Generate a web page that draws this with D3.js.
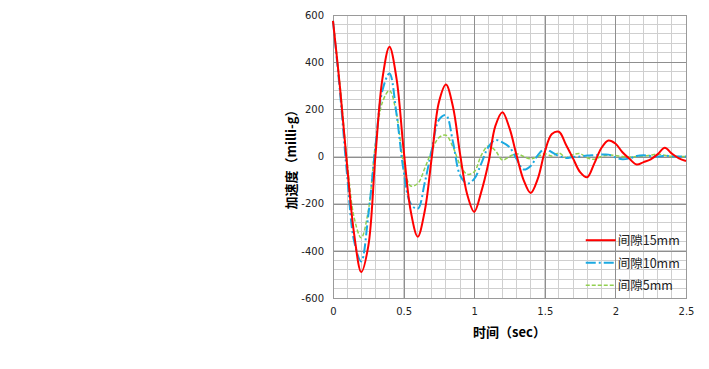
<!DOCTYPE html>
<html>
<head>
<meta charset="utf-8">
<script src="https://cdn.jsdelivr.net/npm/d3@7"></script>
<style>
  body { margin: 0; background: #fff; }
  text { font-family: "Noto Sans CJK SC", "DejaVu Sans", sans-serif; }
</style>
</head>
<body>
<script>
// time axis (sec)
const time = d3.range(0, 51).map(i => +(i * 0.05).toFixed(2));

// 间隙15mm
const gap15 = [575, 290, -40, -330, -490, -380, 0, 330, 465, 330,
  30, -230, -340, -230, 0, 230, 305, 210, 10, -160,
  -235, -150, -30, 130, 188, 120, 5, -100, -155, -95,
  20, 95, 105, 50, -8, -66, -88, -30, 35, 68,
  55, 18, -10, -34, -24, -12, 10, 37, 12, -8, -19];

// 间隙10mm
const gap10 = [575, 270, -80, -360, -445, -250, 40, 280, 352, 180,
  -60, -200, -222, -110, 30, 155, 175, 60, -80, -115,
  -95, -30, 40, 70, 60, 40, -10, -55, -40, 5,
  32, 18, 2, -6, -2, 0, 4, 6, 8, 8,
  -4, -12, -8, 2, 5, 2, 0, 3, 1, 0, 0];

// 间隙5mm
const gap5 = [575, 300, -20, -260, -345, -230, 50, 230, 280, 180,
  -30, -125, -115, -50, 25, 80, 90, 40, -35, -75,
  -65, 5, 45, 25, -15, 0, 12, 0, -10, 0,
  12, 2, 15, -5, 8, 12, -5, -12, 0, 6,
  4, 0, -2, 0, 2, 6, 10, 5, 0, 0, 0];

const xTicks = [0, 0.5, 1, 1.5, 2, 2.5];
const yTicks = [-600, -400, -200, 0, 200, 400, 600];

const series = [
  {name: "间隙15mm", values: gap15, color: "#ff0000", width: 2, dash: null},
  {name: "间隙10mm", values: gap10, color: "#1ba9e1", width: 2, dash: "10,3,2,3"},
  {name: "间隙5mm", values: gap5, color: "#92d050", width: 1.5, dash: "4,2"}
];

const W = 709, H = 369;
const margin = {top: 15, right: 23, bottom: 71, left: 333};
const width = W - margin.left - margin.right;
const height = H - margin.top - margin.bottom;

const svg = d3.select("body").append("svg")
  .attr("width", W)
  .attr("height", H);

const g = svg.append("g")
  .attr("transform", `translate(${margin.left}, ${margin.top})`);

const xScale = d3.scaleLinear().domain([0, 2.5]).range([0, width]);
const yScale = d3.scaleLinear().domain([-600, 600]).range([height, 0]);

// minor grid
g.append("g")
  .selectAll("line")
  .data(d3.range(0, 2.5001, 0.1))
  .join("line")
  .attr("x1", d => xScale(d)).attr("x2", d => xScale(d))
  .attr("y1", 0).attr("y2", height)
  .attr("stroke", "#cfcfcf").attr("stroke-width", 1)
  .attr("shape-rendering", "crispEdges");

g.append("g")
  .selectAll("line")
  .data(d3.range(-600, 600.01, 40))
  .join("line")
  .attr("x1", 0).attr("x2", width)
  .attr("y1", d => yScale(d)).attr("y2", d => yScale(d))
  .attr("stroke", "#cfcfcf").attr("stroke-width", 1)
  .attr("shape-rendering", "crispEdges");

// major grid via axes
const xAxis = d3.axisBottom(xScale).tickValues(xTicks).tickSize(-height).tickPadding(10)
  .tickFormat(d => String(d));
const yAxis = d3.axisLeft(yScale).tickValues(yTicks).tickSize(-width).tickPadding(9)
  .tickFormat(d => String(d));

const gx = g.append("g")
  .attr("transform", `translate(0, ${height})`)
  .call(xAxis);
const gy = g.append("g").call(yAxis);

[gx, gy].forEach(ax => {
  ax.select(".domain").remove();
  ax.selectAll(".tick line").attr("stroke", "#8f8f8f").attr("shape-rendering", "crispEdges");
  ax.selectAll(".tick text")
    .attr("fill", "#222")
    .style("font-family", "'DejaVu Sans', sans-serif")
    .style("font-size", "10px");
});

g.append("rect")
  .attr("width", width).attr("height", height)
  .attr("fill", "none").attr("stroke", "#9a9a9a")
  .attr("shape-rendering", "crispEdges");

const line = d3.line()
  .x((d, i) => xScale(time[i]))
  .y(d => yScale(d))
  .curve(d3.curveCatmullRom.alpha(0.5));

// draw green first so red sits on top
series.slice().reverse().forEach(s => {
  g.append("path")
    .datum(s.values)
    .attr("fill", "none")
    .attr("stroke", s.color)
    .attr("stroke-width", s.width)
    .attr("stroke-dasharray", s.dash)
    .attr("d", line);
});

// legend
const legend = g.append("g").attr("transform", `translate(${xScale(1.79)}, ${yScale(-355)})`);
series.forEach((s, i) => {
  const row = legend.append("g").attr("transform", `translate(0, ${i * 22.5})`);
  row.append("line")
    .attr("x1", 0).attr("x2", 30)
    .attr("stroke", s.color)
    .attr("stroke-width", s.width)
    .attr("stroke-dasharray", s.dash);
  row.append("text")
    .attr("x", 32).attr("y", 5)
    .style("font-size", "12.5px")
    .attr("fill", "#222")
    .text(s.name);
});

// axis titles
svg.append("text")
  .attr("x", margin.left + width / 2).attr("y", 337)
  .attr("text-anchor", "middle")
  .style("font-size", "13px").style("font-weight", "bold")
  .text("时间（sec）");

svg.append("text")
  .attr("transform", `translate(296, ${margin.top + height / 2}) rotate(-90)`)
  .attr("text-anchor", "middle")
  .style("font-size", "13px").style("font-weight", "bold")
  .text("加速度（milli-g）");
</script>
</body>
</html>
